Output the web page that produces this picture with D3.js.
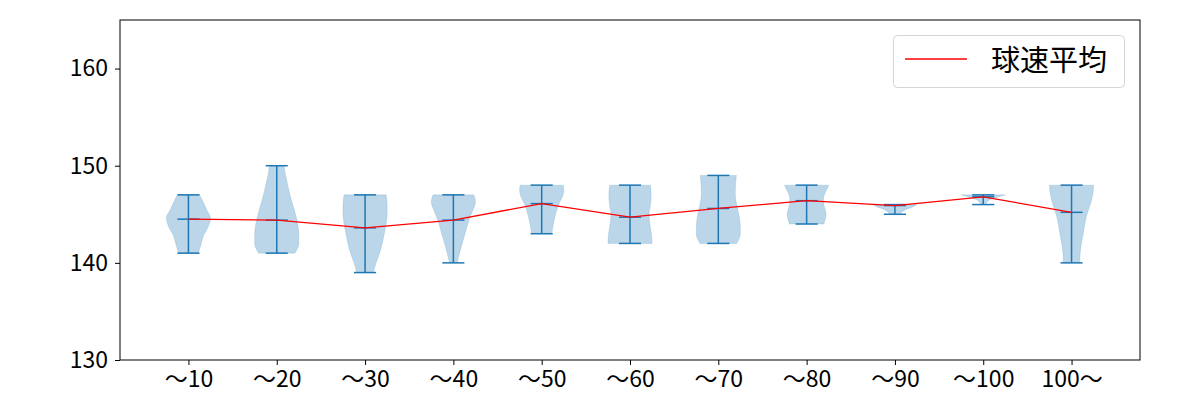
<!DOCTYPE html>
<html>
<head>
<meta charset="utf-8">
<script src="https://cdn.jsdelivr.net/npm/d3@7"></script>
<style>
  html, body { margin: 0; padding: 0; background: #fff; }
  svg { display: block; }
  text { font-family: "Noto Sans CJK JP", "DejaVu Sans", sans-serif; fill: #000; }
</style>
</head>
<body>
<svg id="chart" width="1200" height="400"></svg>
<script>
// ---- data ----
const categories = ["〜10", "〜20", "〜30", "〜40", "〜50", "〜60", "〜70", "〜80", "〜90", "〜100", "100〜"];
const means = [144.5, 144.4, 143.6, 144.4, 146.1, 144.7, 145.6, 146.4, 145.9, 146.8, 145.2];
const mins  = [141, 141, 139, 140, 143, 142, 142, 144, 145, 146, 140];
const maxs  = [147, 150, 147, 147, 148, 148, 149, 148, 146, 147, 148];
// relative density (0..1): [speed, density]
const densities = [
  [[141,0.45],[142,0.58],[142.8,0.68],[143.5,0.85],[144.6,1.0],[145.5,0.82],[146,0.72],[146.5,0.62],[147,0.5]],
  [[141,0.82],[142,1.0],[143,1.0],[144,0.95],[145,0.85],[146,0.72],[147,0.6],[148,0.5],[149,0.4],[150,0.33]],
  [[139,0.38],[140,0.5],[141,0.66],[142,0.78],[143,0.87],[144,0.95],[145,1.0],[146,1.0],[147,0.95]],
  [[140,0.17],[141,0.28],[142,0.4],[143,0.53],[144,0.65],[144.8,0.77],[145.5,0.9],[146.3,1.0],[147,0.92]],
  [[143,0.46],[144,0.53],[145,0.63],[146,0.77],[147,0.97],[147.5,1.0],[148,0.98]],
  [[142,1.0],[143,0.97],[144,0.9],[145,0.86],[146,0.93],[147,0.96],[148,0.92]],
  [[142,0.83],[143,1.0],[144,0.99],[145,0.93],[146,0.83],[147,0.77],[148,0.78],[149,0.82]],
  [[144,0.78],[145,0.88],[146,0.78],[146.5,0.76],[147,0.8],[147.5,0.9],[148,1.0]],
  [[145,0.25],[145.2,0.3],[145.5,0.5],[145.8,0.85],[146,1.0]],
  [[146,0.1],[146.2,0.15],[146.5,0.3],[146.8,0.7],[147,1.0]],
  [[140,0.37],[141,0.39],[142,0.45],[143,0.53],[144,0.6],[145,0.7],[146,0.85],[147,0.96],[148,1.0]]
];
const yTicks = [130, 140, 150, 160];
const legendLabel = "球速平均";

// ---- layout ----
const svg = d3.select("#chart");
const L = 120, R = 1140, T = 20, B = 360;
const blue = "#1f77b4";

const x = d3.scaleLinear().domain([0.225, 11.775]).range([L, R]);
const y = d3.scaleLinear().domain([130, 165]).range([B, T]);
const halfW = x(1.25) - x(1);   // violin half width (0.25 units)
const capW = x(1.125) - x(1);   // extrema line half width

// violins
const area = d3.area()
  .y(d => y(d[0]))
  .curve(d3.curveMonotoneY);

densities.forEach((dens, i) => {
  const cx = x(i + 1);
  svg.append("path")
    .datum(dens)
    .attr("d", area.x0(d => cx - d[1] * halfW).x1(d => cx + d[1] * halfW))
    .attr("fill", blue)
    .attr("fill-opacity", 0.3)
    .attr("stroke", blue)
    .attr("stroke-opacity", 0.3)
    .attr("stroke-width", 0.5);
});

// extrema / mean lines
const g = svg.append("g").attr("stroke", blue).attr("stroke-width", 1.5);
categories.forEach((c, i) => {
  const cx = x(i + 1);
  g.append("line").attr("x1", cx).attr("x2", cx).attr("y1", y(mins[i])).attr("y2", y(maxs[i]));
  [mins[i], maxs[i], means[i]].forEach(v => {
    g.append("line").attr("x1", cx - capW).attr("x2", cx + capW).attr("y1", y(v)).attr("y2", y(v));
  });
});

// mean line
svg.append("path")
  .datum(means)
  .attr("d", d3.line().x((d, i) => x(i + 1)).y(d => y(d)))
  .attr("fill", "none")
  .attr("stroke", "red")
  .attr("stroke-width", 1.3);

// axes
const xAxis = d3.axisBottom(x)
  .tickValues(categories.map((c, i) => i + 1))
  .tickFormat((d, i) => categories[i])
  .tickSize(5).tickPadding(6);
const yAxis = d3.axisLeft(y)
  .tickValues(yTicks)
  .tickFormat(d3.format("d"))
  .tickSize(5).tickPadding(7);

const gx = svg.append("g").attr("transform", `translate(0,${B})`).call(xAxis);
const gy = svg.append("g").attr("transform", `translate(${L},0)`).call(yAxis);
[gx, gy].forEach(a => {
  a.select(".domain").remove();
  a.selectAll("line").attr("stroke", "#000").attr("stroke-width", 1);
  a.selectAll("text").attr("font-size", 23).attr("fill", "#000")
    .attr("font-family", "'Noto Sans CJK JP', sans-serif");
});

// frame
svg.append("rect").attr("x", L).attr("y", T).attr("width", R - L).attr("height", B - T)
  .attr("fill", "none").attr("stroke", "#000").attr("stroke-width", 1);

// legend
const lg = svg.append("g");
lg.append("rect").attr("x", 893.5).attr("y", 35.5).attr("width", 231).attr("height", 52)
  .attr("rx", 4).attr("fill", "#fff").attr("fill-opacity", 0.8)
  .attr("stroke", "#d5d5d5").attr("stroke-width", 1);
lg.append("line").attr("x1", 905).attr("x2", 967).attr("y1", 59).attr("y2", 59)
  .attr("stroke", "red").attr("stroke-width", 1.3);
lg.append("text").attr("x", 991).attr("y", 58).attr("dominant-baseline", "central")
  .attr("font-size", 29).text(legendLabel);
</script>
</body>
</html>
